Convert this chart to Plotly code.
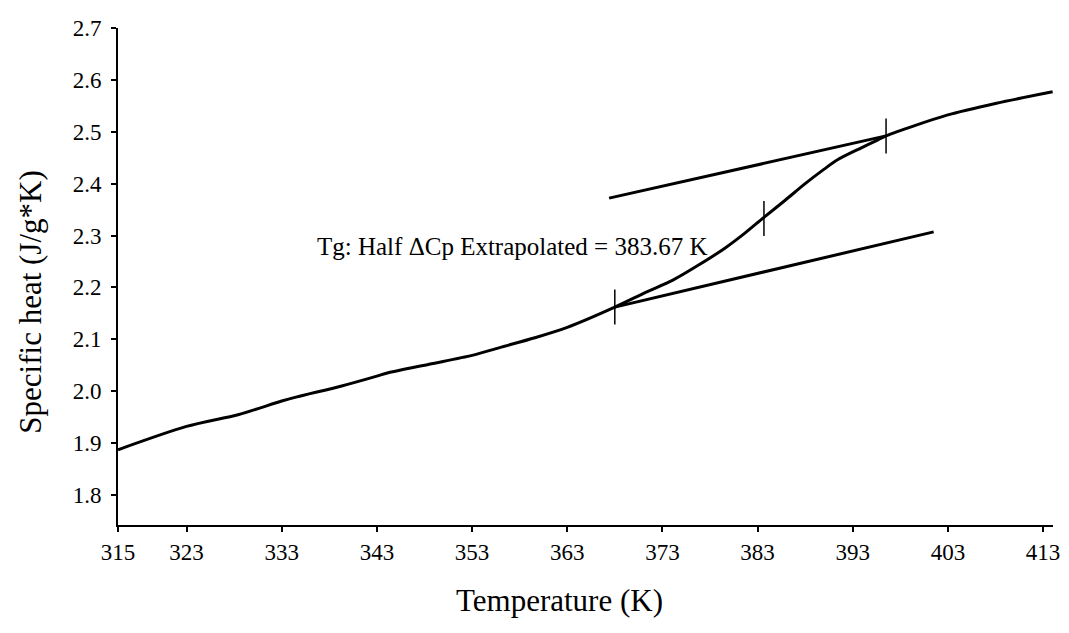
import plotly.graph_objects as go

# Specific heat curve through the glass transition
temp_k = [315.8, 323.0, 328.5, 333.0, 334.6, 339.3, 343.0, 344.1, 348.5, 353.0,
          355.9, 359.6, 363.0, 368.0, 371.3, 374.1, 376.8, 379.6, 381.7, 383.6,
          385.9, 388.0, 390.0, 391.4, 393.9, 395.6, 396.5, 402.9, 408.1, 414.0]
cp = [1.887, 1.932, 1.955, 1.981, 1.989, 2.010, 2.029, 2.035, 2.052, 2.069,
      2.084, 2.103, 2.123, 2.162, 2.191, 2.214, 2.243, 2.276, 2.305, 2.334,
      2.368, 2.400, 2.428, 2.446, 2.469, 2.484, 2.492, 2.532, 2.555, 2.577]

# Extrapolated baselines (glassy / rubbery)
lower_t = [368.0, 401.5]
lower_cp = [2.162, 2.307]
upper_t = [367.4, 396.5]
upper_cp = [2.372, 2.492]

# Onset, half-step (Tg) and end points
mark_t = [368.0, 383.67, 396.5]
mark_cp = [2.162, 2.333, 2.492]

x_tick_vals = [315.8, 323, 333, 343, 353, 363, 373, 383, 393, 403, 413]
x_tick_text = ["315", "323", "333", "343", "353", "363", "373", "383", "393", "403", "413"]
y_tick_vals = [1.8, 1.9, 2.0, 2.1, 2.2, 2.3, 2.4, 2.5, 2.6, 2.7]
y_tick_text = ["1.8", "1.9", "2.0", "2.1", "2.2", "2.3", "2.4", "2.5", "2.6", "2.7"]

FONT = "Liberation Serif"

fig = go.Figure()
fig.add_trace(go.Scatter(x=temp_k, y=cp, mode="lines",
                         line=dict(color="black", width=3, shape="spline", smoothing=0.8),
                         showlegend=False, hoverinfo="skip"))
fig.add_trace(go.Scatter(x=lower_t, y=lower_cp, mode="lines",
                         line=dict(color="black", width=3), showlegend=False))
fig.add_trace(go.Scatter(x=upper_t, y=upper_cp, mode="lines",
                         line=dict(color="black", width=3), showlegend=False))
fig.add_trace(go.Scatter(x=mark_t, y=mark_cp, mode="markers",
                         marker=dict(symbol="line-ns", size=25,
                                     line=dict(color="black", width=1.5)),
                         showlegend=False))

fig.add_annotation(x=336.5, y=2.278, xref="x", yref="y", xanchor="left", yanchor="middle",
                   text="Tg: Half \u0394Cp Extrapolated = 383.67 K", showarrow=False,
                   font=dict(family=FONT, size=25, color="black"))
fig.add_annotation(x=0.4724, y=-0.151, xref="paper", yref="paper",
                   xanchor="center", yanchor="middle",
                   text="Temperature (K)", showarrow=False,
                   font=dict(family=FONT, size=31, color="black"))
fig.add_annotation(x=-0.0934, y=0.4487, xref="paper", yref="paper", textangle=-90,
                   xanchor="center", yanchor="middle",
                   text="Specific heat (J/g*K)", showarrow=False,
                   font=dict(family=FONT, size=31, color="black"))

fig.update_xaxes(range=[315.8, 414.04], tickmode="array", tickvals=x_tick_vals,
                 ticktext=x_tick_text, showgrid=False, zeroline=False,
                 showline=True, linecolor="black", linewidth=2,
                 ticks="outside", ticklen=5, tickwidth=1.5, tickcolor="black",
                 ticklabelstandoff=0,
                 tickfont=dict(family=FONT, size=23, color="black"))
fig.update_yaxes(range=[1.742, 2.7], tickmode="array", tickvals=y_tick_vals,
                 ticktext=y_tick_text, showgrid=False, zeroline=False,
                 showline=True, linecolor="black", linewidth=2,
                 ticks="outside", ticklen=5, tickwidth=1.5, tickcolor="black",
                 ticklabelstandoff=5,
                 tickfont=dict(family=FONT, size=23, color="black"))

fig.update_layout(width=1069, height=633, paper_bgcolor="white", plot_bgcolor="white",
                  margin=dict(l=118, r=9, t=28, b=108))

fig.write_html("out.html")
